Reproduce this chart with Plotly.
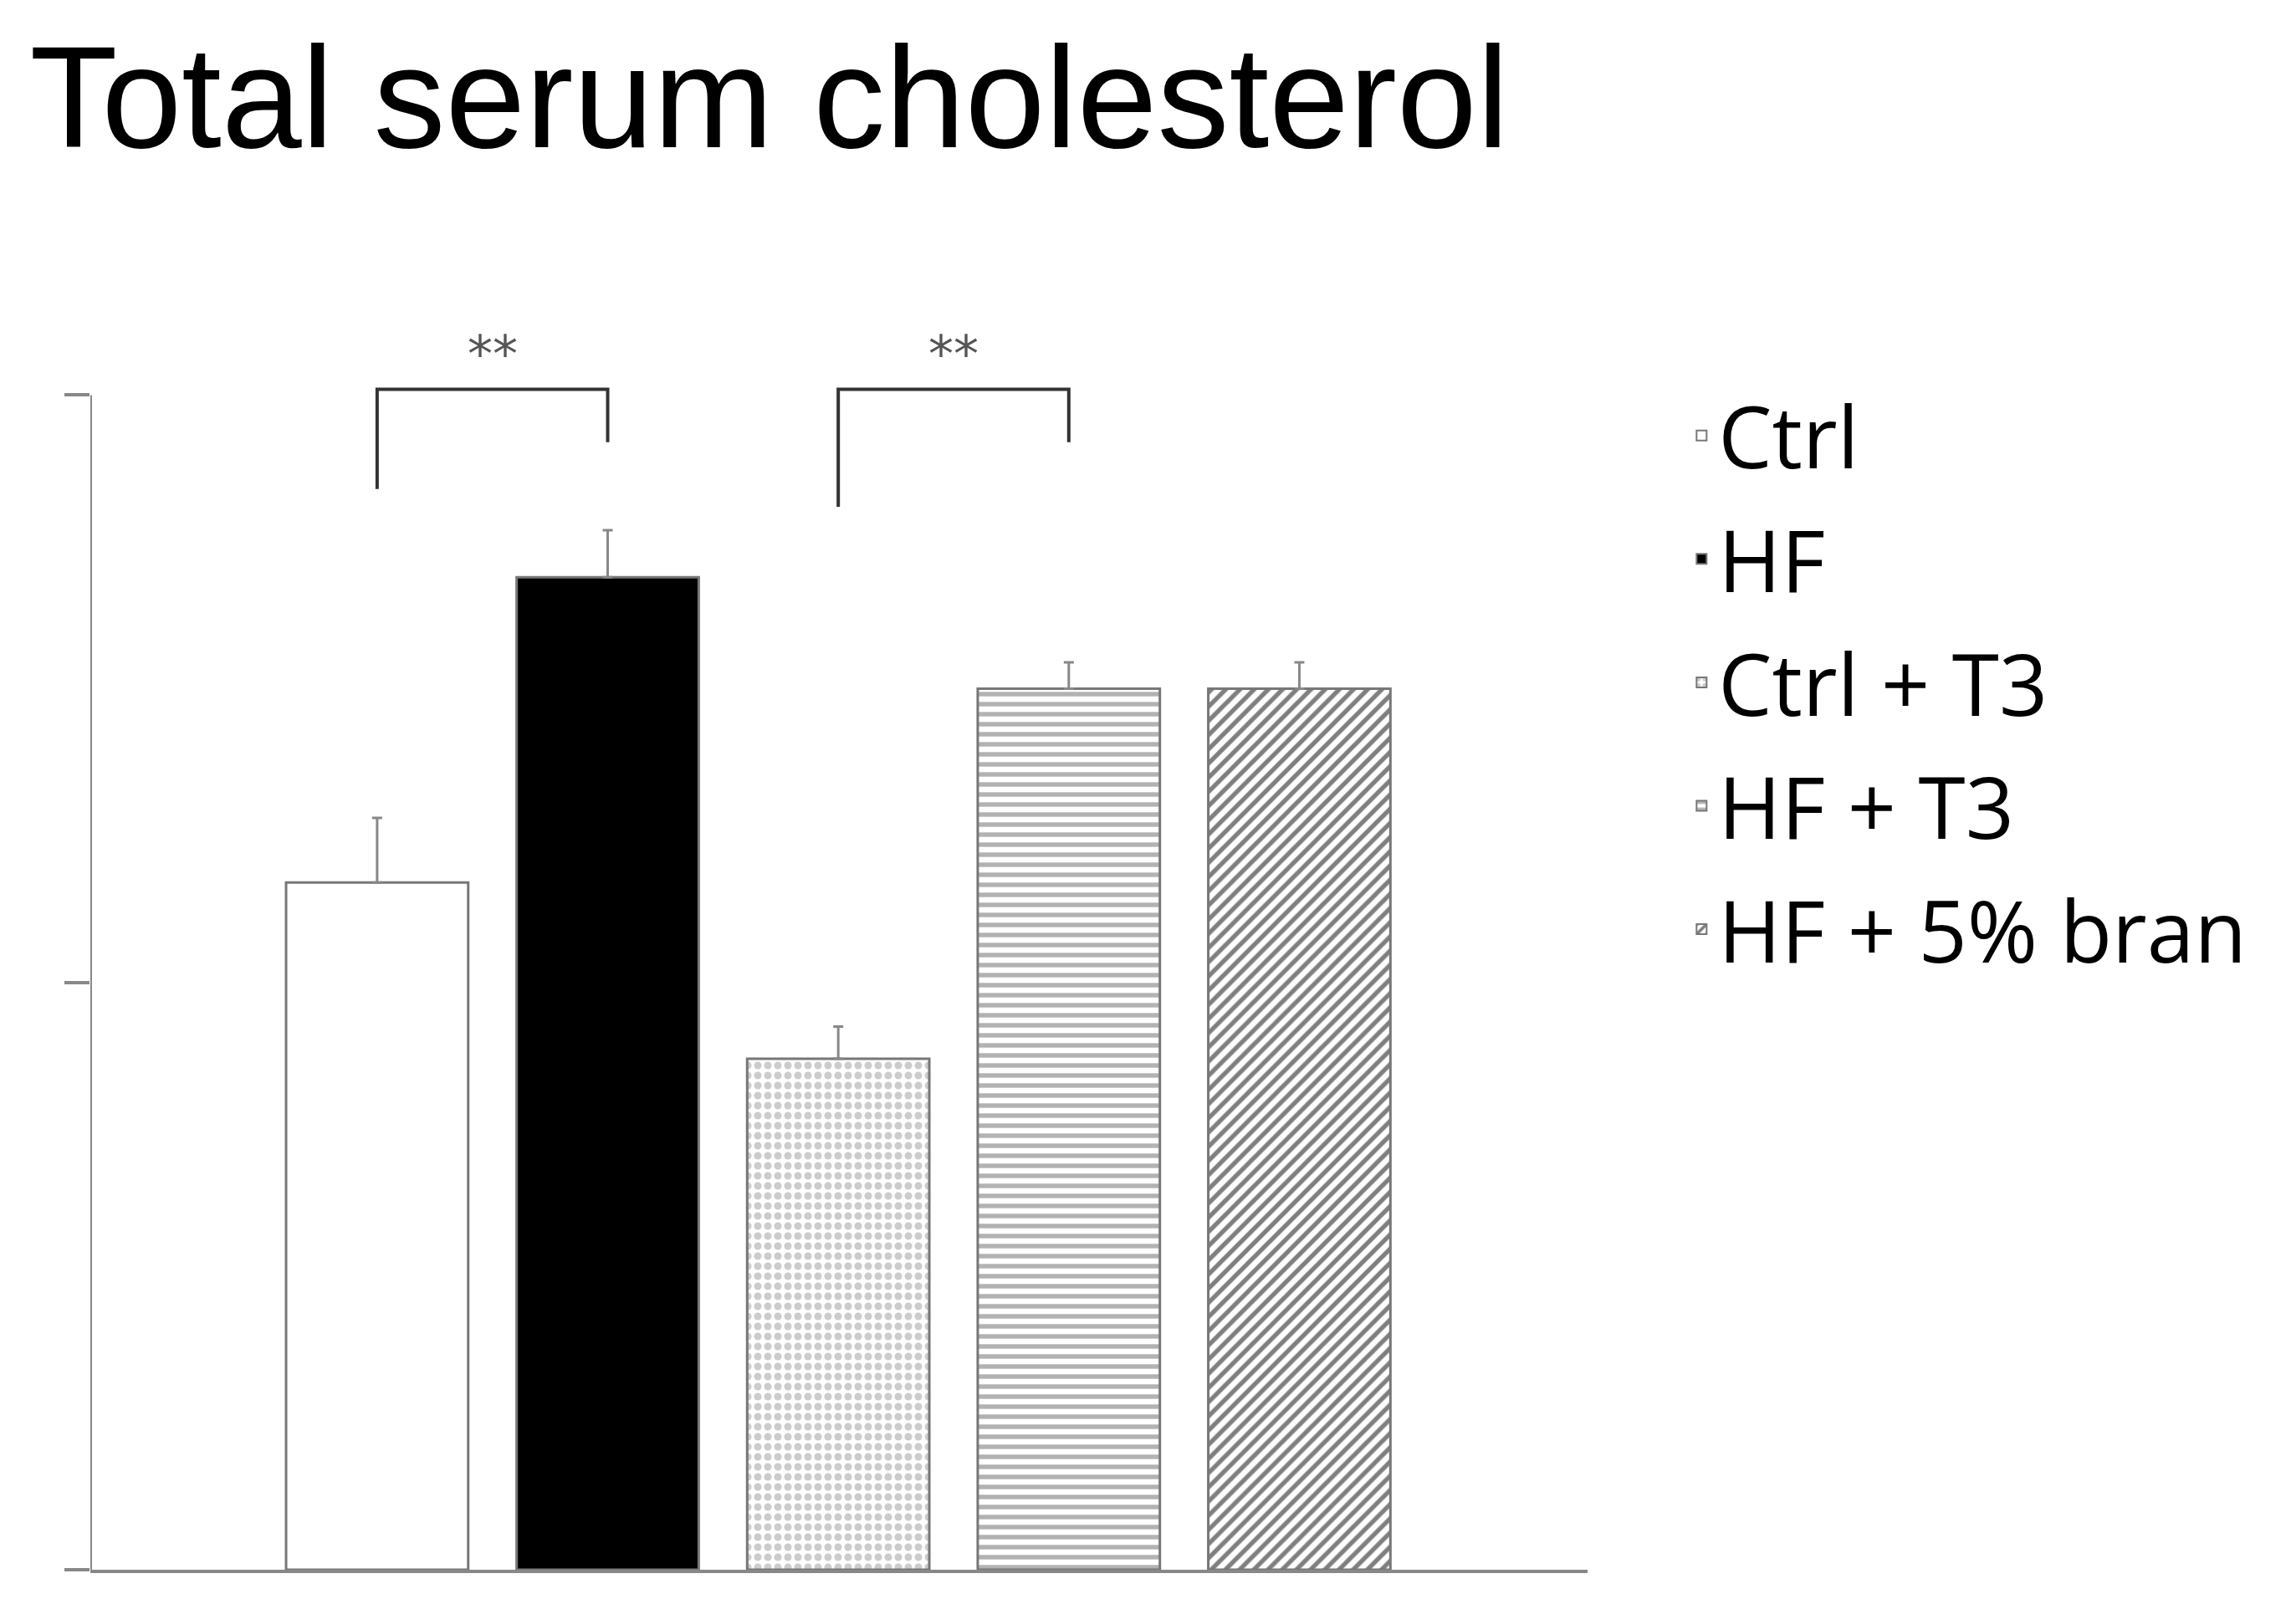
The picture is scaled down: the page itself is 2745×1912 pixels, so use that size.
import plotly.graph_objects as go

groups = ["Ctrl", "HF", "Ctrl + T3", "HF + T3", "HF + 5% bran"]
values = [1.17, 1.69, 0.87, 1.50, 1.50]
errors = [0.11, 0.08, 0.055, 0.045, 0.045]
colors = ["white", "black", "white", "white", "white"]
patterns = ["", "", ".", "-", "/"]
pattern_colors = ["#888", "#000", "#999", "#666", "#000"]
# significance brackets: (from index, to index, top, left leg bottom, right leg bottom)
brackets = [(0, 1, 2.01, 1.84, 1.92), (2, 3, 2.01, 1.81, 1.92)]
star_label = "**"

fig = go.Figure()
for i, g in enumerate(groups):
    fig.add_trace(go.Bar(
        x=[i], y=[values[i]], name=g, width=0.79, legendgroup=g,
        marker=dict(color=colors[i], line=dict(color="#777", width=3),
                    pattern=dict(shape=patterns[i], fgcolor=pattern_colors[i],
                                 bgcolor=colors[i], size=12, solidity=0.45)),
        error_y=dict(type="data", array=[errors[i]], arrayminus=[0], symmetric=False,
                     color="#888", thickness=3, width=6),
    ))

for a, b, top, la, lb in brackets:
    fig.add_trace(go.Scatter(x=[a, a, b, b], y=[la, top, top, lb], mode="lines",
                             line=dict(color="#333", width=4), showlegend=False,
                             hoverinfo="skip"))
    fig.add_annotation(x=(a + b) / 2, y=top, text=star_label, showarrow=False,
                       yanchor="bottom", yshift=5,
                       font=dict(size=60, color="#555", family="DejaVu Sans"))

fig.update_layout(
    width=2745, height=1912, plot_bgcolor="white", paper_bgcolor="white",
    margin=dict(l=100, r=855, t=324, b=43),
    title=dict(text="Total serum cholesterol", x=0.01, xanchor="left", y=0.975, yanchor="top",
               font=dict(family="Liberation Sans", size=172, color="black")),
    barmode="overlay", showlegend=True,
    legend=dict(x=1.065, y=0.925, xanchor="left", yanchor="top",
                font=dict(family="Open Sans", size=102, color="black"),
                tracegroupgap=12, itemsizing="constant"),
    xaxis=dict(range=[-1.244, 5.25], showticklabels=False, ticks="", showgrid=False,
               zeroline=False, showline=True, linecolor="#888", linewidth=4),
    yaxis=dict(range=[0, 2.2], tickvals=[0, 1, 2], showticklabels=False, ticks="outside",
               ticklen=30, tickwidth=4, tickcolor="#888", showgrid=False, zeroline=False,
               showline=False),
)
fig.add_shape(type="line", xref="x", yref="y", x0=-1.244, x1=-1.244, y0=0, y1=2,
              line=dict(color="#888", width=4))
fig.write_html("out.html")
